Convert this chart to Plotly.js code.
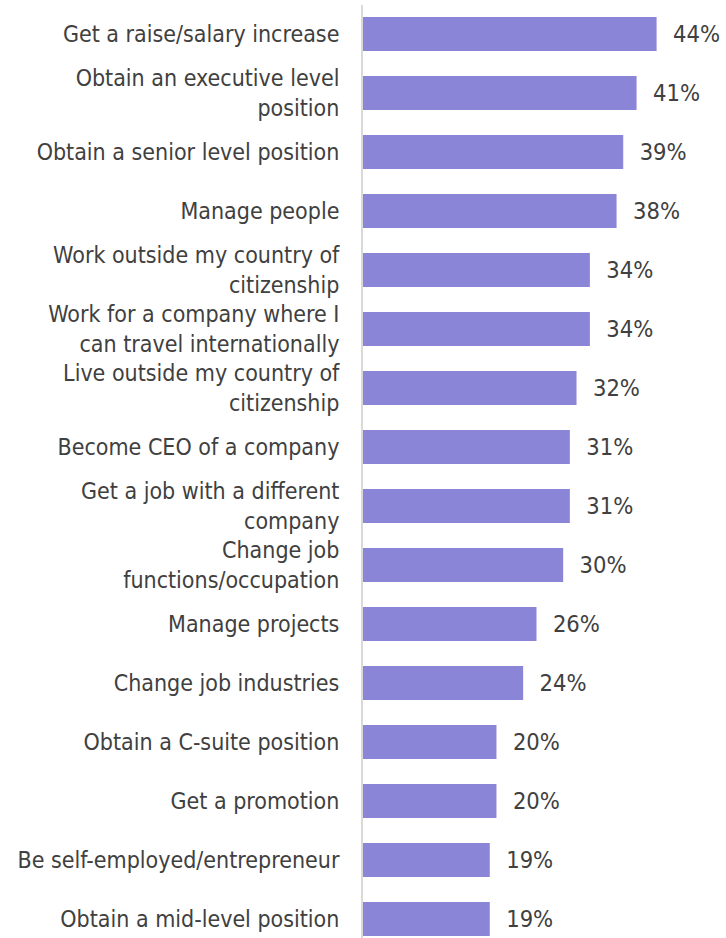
<!DOCTYPE html>
<html><head><meta charset="utf-8">
<script src="https://cdn.plot.ly/plotly-3.0.1.min.js"></script>
<style>html,body{margin:0;padding:0;background:#fff}#chart{width:726px;height:938px}</style>
</head><body><div id="chart"></div>
<script>
const categories = [
  "Get a raise/salary increase",
  "Obtain an executive level<br>position",
  "Obtain a senior level position",
  "Manage people",
  "Work outside my country of<br>citizenship",
  "Work for a company where I<br>can travel internationally",
  "Live outside my country of<br>citizenship",
  "Become CEO of a company",
  "Get a job with a different<br>company",
  "Change job<br>functions/occupation",
  "Manage projects",
  "Change job industries",
  "Obtain a C-suite position",
  "Get a promotion",
  "Be self-employed/entrepreneur",
  "Obtain a mid-level position"
];
const values = [44, 41, 39, 38, 34, 34, 32, 31, 31, 30, 26, 24, 20, 20, 19, 19];
const valueLabels = values.map(v => "\u00a0\u00a0" + v + "%");

const FONT = "'DejaVu Sans Condensed', 'DejaVu Sans', sans-serif";
const trace = {
  type: "bar",
  orientation: "h",
  x: values,
  y: categories,
  text: valueLabels,
  textposition: "outside",
  cliponaxis: false,
  textfont: {family: FONT, size: 23.5, color: "#404040"},
  marker: {color: "#8B85D8", line: {width: 0}},
  hoverinfo: "skip"
};
const layout = {
  width: 726, height: 938,
  margin: {l: 363, r: 0, t: 5, b: 0},
  paper_bgcolor: "#fff", plot_bgcolor: "#fff",
  showlegend: false,
  bargap: 0.424,
  font: {family: FONT, size: 23, color: "#404040"},
  xaxis: {range: [0, 54.4], showgrid: false, zeroline: false, showticklabels: false, showline: false, fixedrange: true},
  yaxis: {type: "category", range: [15.322, -0.4915], showgrid: false, zeroline: false,
          showline: true, linecolor: "#D9D9D9", linewidth: 2, ticks: "", ticklabelstandoff: 17,
          tickfont: {family: FONT, size: 23, color: "#404040"}, automargin: false, fixedrange: true}
};
Plotly.newPlot("chart", [trace], layout, {staticPlot: true, displayModeBar: false});
</script></body></html>
